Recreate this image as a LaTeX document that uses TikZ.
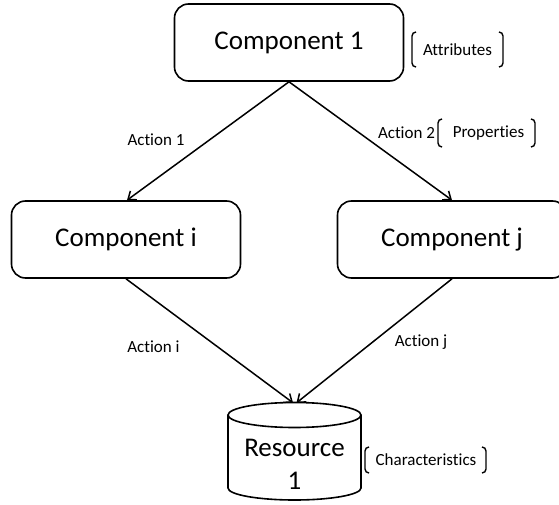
\documentclass[tikz,border=0pt]{standalone}
\usepackage{fontspec}
\setmainfont{Carlito}[Ligatures={NoCommon}]
\usetikzlibrary{arrows.meta,calc}
\begin{document}
\begin{tikzpicture}[x=1pt,y=-1pt,
  comp/.style={draw,line width=1.6pt,rounded corners=14pt,minimum width=229pt,minimum height=77pt,inner sep=0pt,font=\fontsize{27}{32}\selectfont},
  lab/.style={inner sep=0pt,font=\fontsize{17}{20}\selectfont},
  conn/.style={line width=1.5pt,-{Straight Barb[length=7pt,width=11pt,line width=1.5pt]}},
  brk/.style={line width=1.4pt}]
\path[use as bounding box] (0,0) rectangle (559,505);
\clip (0,0) rectangle (559,505);

\node[comp] (c1) at (289,42.5) {Component 1};
\node[comp] (ci) at (126,239.5) {Component i};
\node[comp] (cj) at (452,239.5) {Component j};

% cylinder
\node[minimum width=133pt,minimum height=97pt,inner sep=0pt] (res) at (294.5,451.5) {};
\draw[line width=1.6pt] (228,415) arc[start angle=180,end angle=360,x radius=66.5pt,y radius=12.5pt]
  arc[start angle=0,end angle=180,x radius=66.5pt,y radius=12.5pt]
  -- (228,488) arc[start angle=180,end angle=360,x radius=66.5pt,y radius=12pt] -- (361,415);
\node[align=center,inner sep=0pt,font=\fontsize{27}{33}\selectfont] (rtext) at (294.5,464) {Resource\\1};

% connectors
\draw[conn] (c1.south) -- ([xshift=1pt]ci.north);
\draw[conn] (c1.south) -- (cj.north);
\draw[conn] (ci.south) -- ([xshift=-1.5pt]res.north);
\draw[conn] (cj.south) -- ([xshift=2pt]res.north);

% labels
\node[lab] (a1) at (156,140) {Action 1};
\node[lab] (a2) at (406.5,133) {Action 2};
\node[lab] (ai) at (153.5,347) {Action i};
\node[lab] (aj) at (421,342) {Action j};
\node[lab] (attr) at (457.5,49.5) {Attributes};
\node[lab] (prop) at (488.5,133) {Properties};
\node[lab] (chr) at (426,460) {Characteristics};

% brackets
\draw[brk] (416,32) to[out=180,in=90] (412,36) -- (412,63) to[out=-90,in=180] (416,67);
\draw[brk] (499,32) to[out=0,in=90] (503,36) -- (503,63) to[out=-90,in=0] (499,67);
\draw[brk] (442,119) to[out=180,in=90] (438,123) -- (438,143) to[out=-90,in=180] (442,147);
\draw[brk] (531,119) to[out=0,in=90] (535,123) -- (535,143) to[out=-90,in=0] (531,147);
\draw[brk] (369,447) to[out=180,in=90] (365,451) -- (365,469) to[out=-90,in=180] (369,473);
\draw[brk] (482,447) to[out=0,in=90] (486,451) -- (486,469) to[out=-90,in=0] (482,473);
\end{tikzpicture}
\end{document}
